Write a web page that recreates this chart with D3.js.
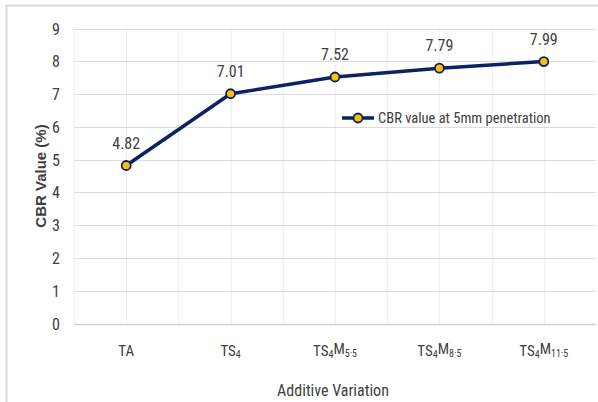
<!DOCTYPE html>
<html><head><meta charset="utf-8">
<script src="https://cdn.jsdelivr.net/npm/d3@7"></script>
<style>
body{margin:0;background:#fff;}
svg{display:block;}
text{font-family:"Liberation Sans Narrow","Roboto Condensed","Open Sans",sans-serif;fill:#404040;}
</style></head><body>
<script>
const categories = ["TA","TS4","TS4M5.5","TS4M8.5","TS4M11.5"];
const values = [4.82, 7.01, 7.52, 7.79, 7.99];
const yTicks = [0,1,2,3,4,5,6,7,8,9];
const seriesName = "CBR value at 5mm penetration";
const xTitle = "Additive Variation";
const yTitle = "CBR Value (%)";

const W = 598, H = 402;
const svg = d3.select("body").append("svg").attr("width", W).attr("height", H);
svg.append("rect").attr("x",6.5).attr("y",5.5).attr("width",W+10).attr("height",H+10)
  .attr("fill","#fff").attr("stroke","#d9d9d9").attr("stroke-width",2);

const pLeft = 74, pRight = 596, pTop = 28.5, pBottom = 323.5;
const x = d3.scaleBand().domain(categories).range([pLeft, pRight]).paddingInner(0).paddingOuter(0);
const y = d3.scaleLinear().domain([0, 9]).range([pBottom, pTop]);
const cx = d => x(d) + x.bandwidth()/2;

// vertical gridlines (edges and centers)
const vlines = [];
categories.forEach(c => { vlines.push(x(c)); vlines.push(cx(c)); });
svg.append("g").selectAll("line").data(vlines).join("line")
  .attr("x1", d => Math.round(d)+0.5).attr("x2", d => Math.round(d)+0.5)
  .attr("y1", pTop).attr("y2", pBottom)
  .attr("stroke", "#efefef").attr("stroke-width", 1);

// horizontal gridlines
svg.append("g").selectAll("line").data(yTicks).join("line")
  .attr("x1", pLeft).attr("x2", pRight)
  .attr("y1", d => Math.round(y(d))+0.5).attr("y2", d => Math.round(y(d))+0.5)
  .attr("stroke", d => d === 0 ? "#d0d0d0" : "#dcdcdc").attr("stroke-width", d => d===0?1.5:1);

// y axis ticks
const yAxis = d3.axisLeft(y).tickValues(yTicks).tickSize(0).tickPadding(0);
const gy = svg.append("g").attr("transform", `translate(60,0)`).call(yAxis);
gy.select(".domain").remove();
gy.selectAll("text").attr("font-size", 16).style("font-family", '"Liberation Sans Narrow","Roboto Condensed",sans-serif').attr("fill","#404040").attr("dy","0.35em");

// x axis labels with subscripts
const xAxis = d3.axisBottom(x).tickSize(0).tickFormat("");
const gx = svg.append("g").attr("transform", `translate(0,${pBottom})`).call(xAxis);
gx.select(".domain").remove();
gx.selectAll(".tick text").remove();
gx.selectAll(".tick").each(function(d){
  const t = d3.select(this).append("text").attr("y", 32).attr("text-anchor","middle")
    .attr("font-size", 15).attr("fill","#404040");
  const parts = d.match(/[A-Z]+|[0-9.]+/g);
  parts.forEach((p, i) => {
    if (/^[A-Z]+$/.test(p)) {
      t.append("tspan").text(p).attr("font-size", 15).attr("dy", i === 0 ? 0 : "-0.25em");
    } else {
      t.append("tspan").text(p.replace(".", "·")).attr("font-size", 10).attr("dy", "0.25em");
    }
  });
});

// line
const line = d3.line().x((d,i) => cx(categories[i])).y(d => y(d));
svg.append("path").datum(values).attr("d", line).attr("fill","none")
  .attr("stroke","#0b2263").attr("stroke-width",3.5).attr("stroke-linejoin","round");

svg.append("g").selectAll("circle").data(values).join("circle")
  .attr("cx",(d,i)=>cx(categories[i])).attr("cy", d=>y(d)).attr("r",4.5)
  .attr("fill","#ffc000").attr("stroke","#0b2263").attr("stroke-width",1.8);

// data labels
svg.append("g").selectAll("text").data(values).join("text")
  .attr("x",(d,i)=>cx(categories[i])).attr("y", d=>y(d)-17)
  .attr("text-anchor","middle").attr("font-size",16).attr("fill","#404040")
  .text(d => d.toFixed(2));

// legend
const lg = svg.append("g").attr("transform","translate(342,118)");
lg.append("line").attr("x1",0).attr("x2",32).attr("y1",0).attr("y2",0)
  .attr("stroke","#0b2263").attr("stroke-width",3.5);
lg.append("circle").attr("cx",16).attr("cy",0).attr("r",4.5)
  .attr("fill","#ffc000").attr("stroke","#0b2263").attr("stroke-width",1.8);
lg.append("text").attr("x",36).attr("y",0).attr("dy","0.35em").attr("font-size",14.5)
  .attr("fill","#404040").text(seriesName);

// axis titles
svg.append("text").attr("x", 333).attr("y", 396).attr("text-anchor","middle")
  .attr("font-size",16).attr("fill","#404040").text(xTitle);
svg.append("text").attr("transform","translate(46,176) rotate(-90)").attr("text-anchor","middle")
  .attr("font-size",15).attr("font-weight","bold").attr("fill","#404040")
  .style("font-family",'"Liberation Sans","Open Sans",sans-serif').text(yTitle);
</script>
</body></html>
